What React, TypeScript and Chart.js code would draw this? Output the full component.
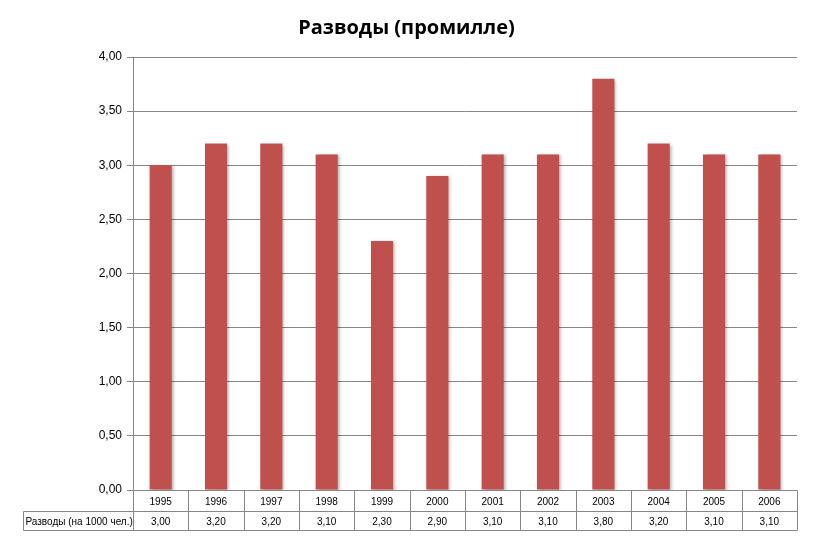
import React, { useEffect, useRef } from "react";
import { Chart, registerables } from "chart.js";

Chart.register(...registerables);

const titleText = "Разводы (промилле)";
const seriesLabel = "Разводы (на 1000 чел.)";
const categories = ["1995", "1996", "1997", "1998", "1999", "2000", "2001", "2002", "2003", "2004", "2005", "2006"];
const values = [3.0, 3.2, 3.2, 3.1, 2.3, 2.9, 3.1, 3.1, 3.8, 3.2, 3.1, 3.1];
const yMin = 0;
const yMax = 4;
const yStep = 0.5;

const fmt = (v: number) => v.toFixed(2).replace(".", ",");

const GRID = "#868686";
const BAR = "#C0504D";
const FONT = "'Liberation Sans', Arial, sans-serif";

const shadowPlugin = {
  id: "barShadow",
  beforeDatasetsDraw(chart: any) {
    const ctx = chart.ctx;
    ctx.save();
    ctx.shadowColor = "rgba(0,0,0,0.3)";
    ctx.shadowBlur = 3;
    ctx.shadowOffsetX = 2;
    ctx.shadowOffsetY = 1;
  },
  afterDatasetsDraw(chart: any) {
    chart.ctx.restore();
  },
};

const titlePlugin = {
  id: "customTitle",
  afterDraw(chart: any) {
    const ctx = chart.ctx;
    ctx.save();
    ctx.font = "bold 20px 'Open Sans', sans-serif";
    ctx.fillStyle = "#000";
    ctx.textAlign = "center";
    ctx.textBaseline = "middle";
    ctx.fillText(titleText, chart.width / 2, 28);
    ctx.restore();
  },
};

const tablePlugin = {
  id: "dataTable",
  afterDraw(chart: any) {
    const ctx = chart.ctx;
    const xs = chart.scales.x;
    const area = chart.chartArea;
    const n = categories.length;
    const colW = (area.right - area.left) / n;
    const top = Math.round(area.bottom) + 0.5;
    const mid = top + 21;
    const bot = top + 40;
    const labelLeft = 23.5;
    ctx.save();
    ctx.strokeStyle = GRID;
    ctx.lineWidth = 1;
    ctx.beginPath();
    ctx.moveTo(area.left - 6, top);
    ctx.lineTo(area.right, top);
    ctx.moveTo(labelLeft, mid);
    ctx.lineTo(area.right, mid);
    ctx.moveTo(labelLeft, bot);
    ctx.lineTo(area.right, bot);
    ctx.moveTo(labelLeft, mid);
    ctx.lineTo(labelLeft, bot);
    for (let i = 0; i <= n; i++) {
      const x = Math.round(area.left + i * colW) + 0.5;
      ctx.moveTo(x, top);
      ctx.lineTo(x, bot);
    }
    ctx.stroke();

    ctx.fillStyle = "#000";
    ctx.font = "10px " + FONT;
    ctx.textBaseline = "middle";
    ctx.textAlign = "center";
    for (let i = 0; i < n; i++) {
      const cx = xs.getPixelForValue(i);
      ctx.fillText(categories[i], cx, (top + mid) / 2 + 1);
      ctx.fillText(fmt(values[i]), cx, (mid + bot) / 2 + 1);
    }
    ctx.textAlign = "left";
    ctx.fillText(seriesLabel, labelLeft + 2, (mid + bot) / 2 + 1);
    ctx.restore();
  },
};

export default function App() {
  const ref = useRef<HTMLCanvasElement>(null);
  useEffect(() => {
    if (!ref.current) return;
    const chart = new Chart(ref.current, {
      type: "bar",
      data: {
        labels: categories,
        datasets: [
          {
            label: seriesLabel,
            data: values,
            backgroundColor: BAR,
            borderWidth: 0,
            barPercentage: 0.4,
            categoryPercentage: 1,
          },
        ],
      },
      options: {
        animation: false,
        responsive: false,
        devicePixelRatio: 1,
        layout: { padding: { left: 0, right: 16, top: 57, bottom: 52 } },
        plugins: {
          legend: { display: false },
          title: { display: false },
          tooltip: { enabled: false },
        },
        scales: {
          x: {
            display: false,
          },
          y: {
            min: yMin,
            max: yMax,
            afterFit: (s: any) => {
              s.width = 133;
            },
            ticks: {
              stepSize: yStep,
              padding: 5,
              color: "#000",
              font: { family: FONT, size: 12 },
              callback: (v: any) => fmt(Number(v)),
            },
            grid: {
              color: GRID,
              tickLength: 6,
              tickColor: GRID,
            },
            border: { color: GRID },
          },
        },
      },
      plugins: [shadowPlugin, tablePlugin, titlePlugin],
    });
    return () => chart.destroy();
  }, []);
  return (
    <div style={{ position: "absolute", left: 0, top: 0, width: 813, height: 542, background: "#fff" }}>
      <canvas ref={ref} width={813} height={542} />
    </div>
  );
}
